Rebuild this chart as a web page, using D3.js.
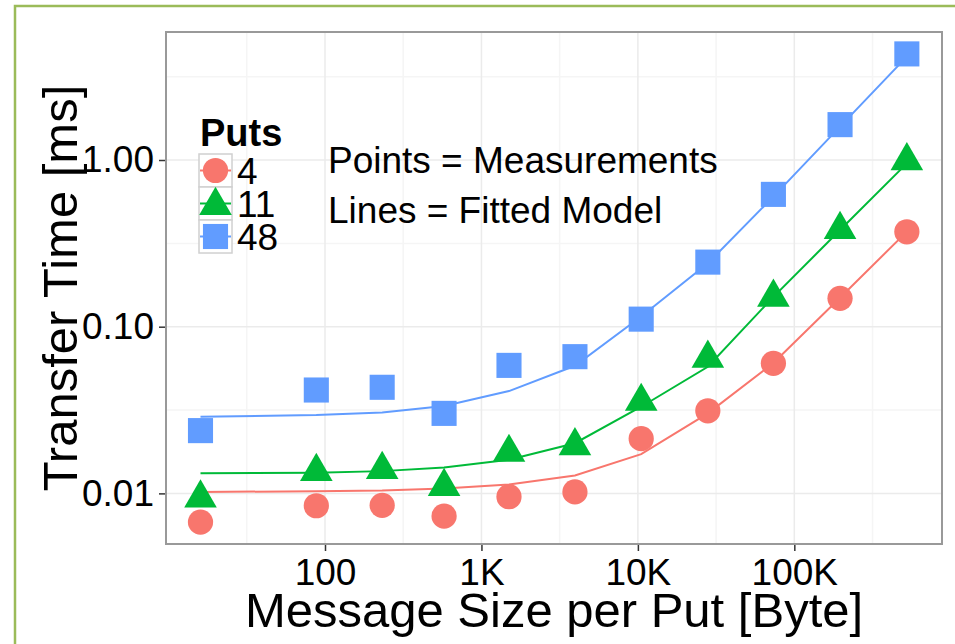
<!DOCTYPE html>
<html>
<head>
<meta charset="utf-8">
<script src="https://cdn.jsdelivr.net/npm/d3@7"></script>
<style>
  body { margin: 0; background: #fff; }
  svg { display: block; font-family: "Liberation Sans", Arial, Helvetica, sans-serif; }
</style>
</head>
<body>
<div id="chart"></div>
<script>
// message size per put [byte]
const sizes = [16, 88, 232, 577, 1500, 3960, 10500, 28000, 73500, 196000, 524000];
const puts = ['4', '11', '48'];
const colors = ['#F8766D', '#00BA38', '#619CFF'];

// measured transfer time [ms]
const measured4  = [0.00673, 0.00843, 0.00848, 0.00731, 0.00955, 0.0102, 0.0213, 0.0313, 0.0603, 0.148, 0.371];
const measured11 = [0.00938, 0.0135, 0.0139, 0.0110, 0.0176, 0.0193, 0.0356, 0.0646, 0.150, 0.382, 0.99];
const measured48 = [0.0238, 0.0417, 0.0433, 0.0302, 0.0586, 0.0661, 0.111, 0.244, 0.622, 1.63, 4.33];

// fitted model [ms]
const fitted4  = [0.0102, 0.0103, 0.0104, 0.0107, 0.0113, 0.0128, 0.0172, 0.0302, 0.0605, 0.149, 0.372];
const fitted11 = [0.0132, 0.0133, 0.0136, 0.0143, 0.0159, 0.0200, 0.0331, 0.0575, 0.151, 0.380, 0.955];
const fitted48 = [0.0288, 0.0295, 0.0306, 0.0334, 0.0411, 0.0583, 0.115, 0.240, 0.603, 1.585, 4.17];

const xTicks = [100, 1000, 10000, 100000];
const xTickLabels = ['100', '1K', '10K', '100K'];
const xMinor = [31.6, 316, 3162, 31623, 316228];
const yTicks = [0.01, 0.1, 1];
const yTickLabels = ['0.01', '0.10', '1.00'];
const yMinor = [0.0316, 0.316, 3.16];

const W = 955, H = 644;
const panel = { left: 166, top: 32, right: 942, bottom: 544 };

const svg = d3.select('#chart').append('svg')
    .attr('width', W)
    .attr('height', H);

// outer green frame
svg.append('path')
    .attr('d', 'M15,' + (H + 5) + 'V6H' + (W + 5))
    .attr('fill', 'none')
    .attr('stroke', '#9BBB59')
    .attr('stroke-width', 2.5);

const x = d3.scaleLog().domain([9.63, 879000]).range([panel.left, panel.right]);
const y = d3.scaleLog().domain([0.00497, 5.86]).range([panel.bottom, panel.top]);

const series = [
    { name: puts[0], color: colors[0], shape: d3.symbolCircle, size: 500, measured: measured4, fitted: fitted4 },
    { name: puts[1], color: colors[1], shape: d3.symbolTriangle, size: 460, measured: measured11, fitted: fitted11 },
    { name: puts[2], color: colors[2], shape: d3.symbolSquare, size: 630, measured: measured48, fitted: fitted48 }
];

// grid
const grid = svg.append('g');
grid.selectAll('.xminor').data(xMinor).enter().append('line')
    .attr('x1', d => x(d)).attr('x2', d => x(d))
    .attr('y1', panel.top).attr('y2', panel.bottom)
    .attr('stroke', '#F5F5F5').attr('stroke-width', 1.5);
grid.selectAll('.yminor').data(yMinor.filter(d => d < y.domain()[1])).enter().append('line')
    .attr('y1', d => y(d)).attr('y2', d => y(d))
    .attr('x1', panel.left).attr('x2', panel.right)
    .attr('stroke', '#F5F5F5').attr('stroke-width', 1.5);
grid.selectAll('.xmajor').data(xTicks).enter().append('line')
    .attr('x1', d => x(d)).attr('x2', d => x(d))
    .attr('y1', panel.top).attr('y2', panel.bottom)
    .attr('stroke', '#EBEBEB').attr('stroke-width', 1.5);
grid.selectAll('.ymajor').data(yTicks).enter().append('line')
    .attr('y1', d => y(d)).attr('y2', d => y(d))
    .attr('x1', panel.left).attr('x2', panel.right)
    .attr('stroke', '#EBEBEB').attr('stroke-width', 1.5);

// axes
const xAxis = svg.append('g')
    .attr('transform', 'translate(0,' + panel.bottom + ')')
    .call(d3.axisBottom(x).tickValues(xTicks).tickFormat((d, i) => xTickLabels[i]).tickSize(7).tickPadding(8));
const yAxis = svg.append('g')
    .attr('transform', 'translate(' + panel.left + ',0)')
    .call(d3.axisLeft(y).tickValues(yTicks).tickFormat((d, i) => yTickLabels[i]).tickSize(7).tickPadding(5));
[xAxis, yAxis].forEach(a => {
    a.select('.domain').remove();
    a.selectAll('.tick line').attr('stroke', '#333').attr('stroke-width', 1.5);
    a.selectAll('.tick text').attr('fill', '#000').style('font-size', '37px')
        .style('font-family', '"Liberation Sans", Arial, sans-serif');
});

// panel border
svg.append('rect')
    .attr('x', panel.left).attr('y', panel.top)
    .attr('width', panel.right - panel.left).attr('height', panel.bottom - panel.top)
    .attr('fill', 'none').attr('stroke', '#999').attr('stroke-width', 2);

// fitted lines
const line = d3.line().x((d, i) => x(sizes[i])).y(d => y(d));
svg.selectAll('.fit').data(series).enter().append('path')
    .attr('d', d => line(d.fitted))
    .attr('fill', 'none')
    .attr('stroke', d => d.color)
    .attr('stroke-width', 2);

// measurements
series.forEach(s => {
    svg.selectAll(null).data(s.measured).enter().append('path')
        .attr('d', d3.symbol().type(s.shape).size(s.size))
        .attr('transform', (d, i) => 'translate(' + x(sizes[i]) + ',' + y(d) + ')')
        .attr('fill', s.color);
});

// legend
const legend = svg.append('g');
legend.append('text')
    .attr('x', 200).attr('y', 146)
    .style('font-size', '38px').style('font-weight', 'bold')
    .text('Puts');
const keyTop = 154, keySize = 33;
series.forEach((s, i) => {
    const ky = keyTop + i * keySize;
    legend.append('rect')
        .attr('x', 199).attr('y', ky)
        .attr('width', keySize).attr('height', keySize)
        .attr('fill', '#fff').attr('stroke', '#D0D0D0').attr('stroke-width', 1.5);
    legend.append('line')
        .attr('x1', 200).attr('x2', 231)
        .attr('y1', ky + keySize / 2).attr('y2', ky + keySize / 2)
        .attr('stroke', s.color).attr('stroke-width', 2);
});
series.forEach((s, i) => {
    const ky = keyTop + i * keySize;
    legend.append('path')
        .attr('d', d3.symbol().type(s.shape).size(s.size))
        .attr('transform', 'translate(' + (199 + keySize / 2) + ',' + (ky + keySize / 2 + (i === 1 ? 2 : 0)) + ')')
        .attr('fill', s.color);
    legend.append('text')
        .attr('x', 237).attr('y', ky + keySize / 2 + 13)
        .style('font-size', '37px')
        .text(s.name);
});

// annotation
svg.append('text').attr('x', 328).attr('y', 173)
    .style('font-size', '37px').text('Points = Measurements');
svg.append('text').attr('x', 328).attr('y', 223)
    .style('font-size', '37px').text('Lines = Fitted Model');

// axis titles
svg.append('text')
    .attr('x', (panel.left + panel.right) / 2).attr('y', 627)
    .attr('text-anchor', 'middle')
    .style('font-size', '49px')
    .text('Message Size per Put [Byte]');
svg.append('text')
    .attr('transform', 'translate(77,' + ((panel.top + panel.bottom) / 2) + ') rotate(-90)')
    .attr('text-anchor', 'middle')
    .style('font-size', '49px')
    .text('Transfer Time [ms]');
</script>
</body>
</html>
